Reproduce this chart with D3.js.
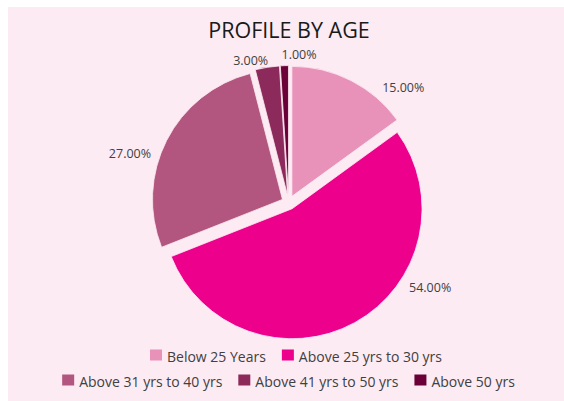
<!DOCTYPE html>
<html>
<head>
<meta charset="utf-8">
<script src="https://cdn.jsdelivr.net/npm/d3@7"></script>
<style>
  html, body { margin: 0; padding: 0; background: #ffffff; }
  svg { display: block; }
  text { font-family: "Open Sans", "Noto Sans", sans-serif; }
</style>
</head>
<body>
<svg width="564" height="401"></svg>
<script>
// data
const categories = ["Below 25 Years", "Above 25 yrs to 30 yrs", "Above 31 yrs to 40 yrs", "Above 41 yrs to 50 yrs", "Above 50 yrs"];
const shares = [15, 54, 27, 3, 1];
const colors = ["#e891b9", "#ec008c", "#b2567f", "#8c2b5b", "#6b0038"];

// label placement (polar, degrees clockwise from top) - Excel "best fit" look
const labelPolar = [[45, 162], [121, 165], [287, 166], [345, 147], [4, 148]];

const W = 564, H = 401;
const cx = 288.7, cy = 202.6, radius = 130, explode = 7;

const svg = d3.select("svg");

svg.append("rect")
    .attr("x", 8).attr("y", 7)
    .attr("width", W - 8).attr("height", H - 7)
    .attr("fill", "#fdebf3");

svg.append("text")
    .attr("x", 289).attr("y", 38)
    .attr("text-anchor", "middle")
    .attr("font-size", 21.5)
    .attr("fill", "#1a1a1a")
    .text("PROFILE BY AGE");

const pie = d3.pie().sort(null).value(d => d);
const arcs = pie(shares);
const arc = d3.arc().innerRadius(0).outerRadius(radius);

const g = svg.append("g").attr("transform", `translate(${cx},${cy})`);

g.selectAll("path")
    .data(arcs)
    .join("path")
    .attr("d", arc)
    .attr("fill", (d, i) => colors[i])
    .attr("stroke", "#fdebf3")
    .attr("stroke-width", 0.8)
    .attr("transform", d => {
        const a = (d.startAngle + d.endAngle) / 2;
        return `translate(${explode * Math.sin(a)},${-explode * Math.cos(a)})`;
    });

g.selectAll("text.lbl")
    .data(arcs)
    .join("text")
    .attr("class", "lbl")
    .attr("x", (d, i) => labelPolar[i][1] * Math.sin(labelPolar[i][0] * Math.PI / 180))
    .attr("y", (d, i) => -labelPolar[i][1] * Math.cos(labelPolar[i][0] * Math.PI / 180))
    .attr("dy", "0.35em")
    .attr("text-anchor", "middle")
    .attr("font-size", 12.5)
    .attr("fill", "#404040")
    .text(d => d3.format(".2f")(d.data) + "%");

// legend, two centered rows
const rows = [[0, 1], [2, 3, 4]];
const rowY = [361.5, 386.5];
const rowCenter = [296, 288.5];
const sw = 12, gapSw = 5, gapItem = 16;

rows.forEach((row, r) => {
    const lg = svg.append("g");
    let x = 0;
    row.forEach((k, j) => {
        const item = lg.append("g").attr("transform", `translate(${x},0)`);
        item.append("rect")
            .attr("x", 0).attr("y", rowY[r] - 12)
            .attr("width", sw).attr("height", 11)
            .attr("fill", colors[k]);
        const t = item.append("text")
            .attr("x", sw + gapSw).attr("y", rowY[r])
            .attr("font-size", 14)
            .attr("fill", "#404040")
            .text(categories[k]);
        x += sw + gapSw + t.node().getComputedTextLength() + (j < row.length - 1 ? gapItem : 0);
    });
    lg.attr("transform", `translate(${rowCenter[r] - x / 2},0)`);
});
</script>
</body>
</html>
